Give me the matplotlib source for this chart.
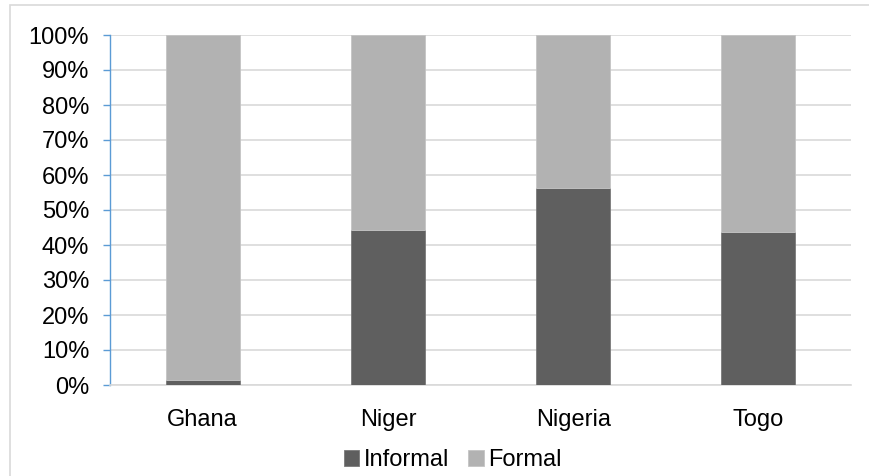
import matplotlib.pyplot as plt
import numpy as np
from matplotlib.patches import Rectangle

plt.rcParams["font.family"] = ["Liberation Sans", "DejaVu Sans"]

countries = ["Ghana", "Niger", "Nigeria", "Togo"]
informal = [1.4, 44.2, 56.2, 43.8]
formal = [100 - v for v in informal]

DARK = "#5f5f5f"
LIGHT = "#b2b2b2"

fig = plt.figure(figsize=(8.7, 4.76), dpi=100)
# outer chart border (runs off the right and bottom edges)
fig.patches.append(Rectangle((10.5 / 870, -0.05), 1.0, 1 - 5.5 / 476 + 0.05,
                             transform=fig.transFigure, fill=False,
                             edgecolor="#d9d9d9", linewidth=1.2))

ax = fig.add_axes([110 / 870, 1 - 385 / 476, 741 / 870, 350 / 476])
x = np.arange(len(countries))
ax.bar(x, informal, width=0.4, color=DARK, edgecolor="#7a7a7a", linewidth=0.6,
       label="Informal", zorder=3)
ax.bar(x, formal, width=0.4, bottom=informal, color=LIGHT, edgecolor="#c4c4c4",
       linewidth=0.6, label="Formal", zorder=3)

ax.set_xlim(-0.5, len(countries) - 0.5)
ax.set_ylim(0, 100)
ax.set_yticks(range(0, 101, 10))
ax.set_yticklabels([f"{v}%" for v in range(0, 101, 10)], fontsize=17)
ax.set_xticks(x)
ax.set_xticklabels(countries, fontsize=17)
ax.grid(axis="y", color="#d9d9d9", linewidth=1.2, zorder=0)

for s in ["top", "right"]:
    ax.spines[s].set_visible(False)
ax.spines["left"].set_color("#5b9bd5")
ax.spines["left"].set_linewidth(1.0)
ax.spines["bottom"].set_color("#d9d9d9")
ax.spines["bottom"].set_linewidth(1.2)
ax.tick_params(axis="y", color="#5b9bd5", length=5, width=1.0, pad=10)
ax.tick_params(axis="x", length=0, pad=17)

fig.legend(loc="center", bbox_to_anchor=(453 / 870, 1 - 460 / 476), ncol=2,
           frameon=False, fontsize=17, handlelength=0.65, handleheight=0.65,
           handletextpad=0.2, columnspacing=0.8)

fig.savefig("out.png", dpi=100)
